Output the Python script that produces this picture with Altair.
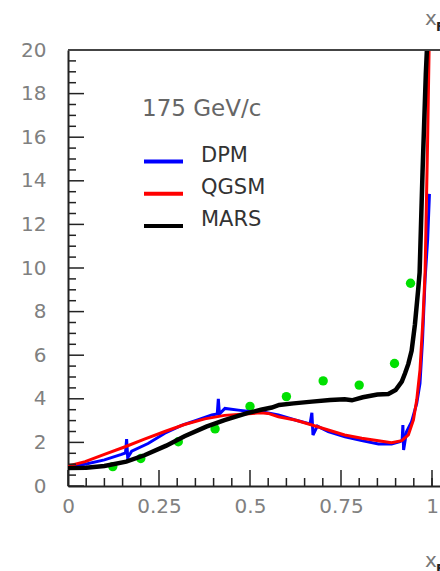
import altair as alt
import pandas as pd

# ---- data ----
dpm_x = [0.0, 0.047, 0.1, 0.147, 0.158, 0.161, 0.164, 0.175, 0.22, 0.266, 0.312, 0.358, 0.395, 0.41, 0.413, 0.416,
         0.431, 0.468, 0.505, 0.532, 0.578, 0.624, 0.665, 0.67, 0.673, 0.685, 0.715, 0.761, 0.807, 0.853, 0.889,
         0.912, 0.918, 0.92, 0.922, 0.93, 0.944, 0.958, 0.967, 0.974, 0.981, 0.988, 0.993]
dpm_y = [0.9, 1.0, 1.2, 1.45, 1.52, 2.15, 1.3, 1.6, 1.95, 2.42, 2.78, 3.04, 3.26, 3.3, 4.0, 3.3,
         3.56, 3.48, 3.41, 3.41, 3.26, 3.03, 2.85, 3.36, 2.34, 2.75, 2.49, 2.26, 2.08, 1.93, 1.93,
         2.04, 2.1, 2.8, 1.65, 2.49, 2.95, 3.79, 4.71, 6.7, 9.5, 11.3, 13.4]

qgsm_x = [0.0, 0.047, 0.1, 0.157, 0.21, 0.266, 0.32, 0.376, 0.43, 0.486, 0.53, 0.55, 0.578, 0.624, 0.67, 0.715,
          0.76, 0.807, 0.853, 0.889, 0.917, 0.935, 0.949, 0.958, 0.967, 0.975, 0.981, 0.988, 0.992]
qgsm_y = [0.92, 1.12, 1.45, 1.8, 2.15, 2.5, 2.82, 3.08, 3.24, 3.3, 3.36, 3.33, 3.18, 3.03, 2.8, 2.57,
          2.34, 2.19, 2.08, 1.99, 2.08, 2.34, 3.03, 3.94, 5.32, 7.6, 9.8, 15.9, 20.0]

mars_x = [0.0, 0.05, 0.1, 0.16, 0.21, 0.27, 0.32, 0.38, 0.43, 0.49, 0.53, 0.56, 0.58, 0.62, 0.67, 0.72, 0.76,
          0.78, 0.81, 0.85, 0.88, 0.9, 0.917, 0.926, 0.935, 0.944, 0.953, 0.962, 0.966, 0.974, 0.983, 0.986]
mars_y = [0.82, 0.84, 0.92, 1.12, 1.41, 1.85, 2.28, 2.72, 3.02, 3.33, 3.5, 3.6, 3.72, 3.79, 3.87, 3.94, 3.98,
          3.93, 4.07, 4.2, 4.22, 4.4, 4.79, 5.17, 5.6, 6.2, 7.4, 9.0, 9.8, 14.4, 18.9, 20.0]

meas_x = [0.123, 0.2, 0.303, 0.404, 0.5, 0.6, 0.701, 0.8, 0.897, 0.941]
meas_y = [0.89, 1.26, 2.03, 2.62, 3.65, 4.1, 4.82, 4.63, 5.62, 9.3]

models = ["DPM", "QGSM", "MARS"]
model_colors = ["#0000ff", "#ff0000", "#000000"]
legend_title = "175 GeV/c"

x_major = [0, 0.25, 0.5, 0.75, 1]
x_minor = [0.05, 0.1, 0.15, 0.2, 0.3, 0.35, 0.4, 0.45, 0.55, 0.6, 0.65, 0.7, 0.8, 0.85, 0.9, 0.95, 1.0]
y_major = [0, 2, 4, 6, 8, 10, 12, 14, 16, 18, 20]
y_minor = [0.5, 1, 1.5, 2.5, 3, 3.5, 4.5, 5, 5.5, 6.5, 7, 7.5, 8.5, 9, 9.5, 10.5, 11, 11.5, 12.5, 13, 13.5,
           14.5, 15, 15.5, 16.5, 17, 17.5, 18.5, 19, 19.5]

# ---- tables ----
def curve(name, xs, ys):
    return pd.DataFrame({"model": name, "xf": xs, "val": ys, "i": range(len(xs))})

df_dpm = curve("DPM", dpm_x, dpm_y)
df_qgsm = curve("QGSM", qgsm_x, qgsm_y)
df_mars = curve("MARS", mars_x, mars_y)
df_meas = pd.DataFrame({"xf": meas_x, "val": meas_y})

W, H = 372, 436
XMAX = 372 / 364

xscale = alt.Scale(domain=[0, XMAX], nice=False, zero=False)
yscale = alt.Scale(domain=[0, 20], nice=False)

x_axis = alt.Axis(values=x_major, format=".2~f", title=None, ticks=False, grid=False, labelPadding=10,
                  labelFontSize=20, labelFont="DejaVu Sans", labelColor="#808080", labelFlush=False,
                  labelOverlap=False, domainColor="#222222", domainWidth=2)
y_axis = alt.Axis(values=y_major, title=None, ticks=False, grid=False, labelPadding=22,
                  labelFontSize=20, labelFont="DejaVu Sans", labelColor="#808080", labelFlush=False,
                  labelOverlap=False, domainColor="#222222", domainWidth=2)

color_enc = alt.Color(
    "model:N",
    scale=alt.Scale(domain=models, range=model_colors),
    legend=alt.Legend(
        orient="none", legendX=74, legendY=48, title=legend_title, titleFontSize=23,
        titleFontWeight="normal", titleColor="#666666", titleFont="DejaVu Sans", titlePadding=19,
        symbolType="stroke", symbolSize=1521, symbolStrokeWidth=4, labelFontSize=21,
        labelFont="DejaVu Sans", labelColor="#333333", labelBaseline="alphabetic", labelOffset=16,
        rowPadding=2.3, padding=0,
    ),
)

def line_layer(df, width):
    return alt.Chart(df).mark_line(strokeWidth=width, clip=True).encode(
        x=alt.X("xf:Q", scale=xscale, axis=x_axis),
        y=alt.Y("val:Q", scale=yscale, axis=y_axis),
        color=color_enc,
        order="i:Q",
    )

dots = alt.Chart(df_meas).mark_circle(size=88, opacity=1, color="#00e000").encode(
    x=alt.X("xf:Q", scale=xscale, axis=x_axis),
    y=alt.Y("val:Q", scale=yscale, axis=y_axis),
)

tick_style = dict(color="#222222", strokeWidth=1.5)
xt_major = alt.Chart(pd.DataFrame({"t": x_major})).mark_rule(**tick_style).encode(
    x=alt.X("t:Q", scale=xscale), y=alt.value(H), y2=alt.value(H - 16))
xt_minor = alt.Chart(pd.DataFrame({"t": x_minor})).mark_rule(**tick_style).encode(
    x=alt.X("t:Q", scale=xscale), y=alt.value(H), y2=alt.value(H - 8))
yt_major = alt.Chart(pd.DataFrame({"t": y_major})).mark_rule(**tick_style).encode(
    y=alt.Y("t:Q", scale=yscale), x=alt.value(0), x2=alt.value(16))
yt_minor = alt.Chart(pd.DataFrame({"t": y_minor})).mark_rule(**tick_style).encode(
    y=alt.Y("t:Q", scale=yscale), x=alt.value(0), x2=alt.value(8))

one = pd.DataFrame({"k": [0]})
top_border = alt.Chart(one).mark_rule(color="#444444", strokeWidth=2).encode(
    x=alt.value(0), x2=alt.value(W), y=alt.value(0))

def label(text, x, y, size, color, weight="normal"):
    return alt.Chart(one).mark_text(text=text, align="left", baseline="alphabetic", fontSize=size,
                                    font="DejaVu Sans", color=color, fontWeight=weight).encode(
        x=alt.value(x), y=alt.value(y))

titles = [
    label("x", 357, -25, 20, "#777777"),
    label("F", 368, -19, 13, "#222222", "bold"),
    label("x", 357, 517, 20, "#777777"),
    label("F", 368, 523, 13, "#222222", "bold"),
]

chart = alt.layer(
    dots,
    line_layer(df_dpm, 3),
    line_layer(df_qgsm, 3),
    line_layer(df_mars, 4.5),
    xt_major, xt_minor, yt_major, yt_minor, top_border,
    *titles,
).properties(
    width=W, height=H,
    autosize=alt.AutoSizeParams(type="none"),
    padding={"left": 68, "top": 50, "right": 0, "bottom": 85},
).configure_view(strokeOpacity=0).configure(background="white")

chart.save("out.html", embed_options={"renderer": "svg", "actions": False})
